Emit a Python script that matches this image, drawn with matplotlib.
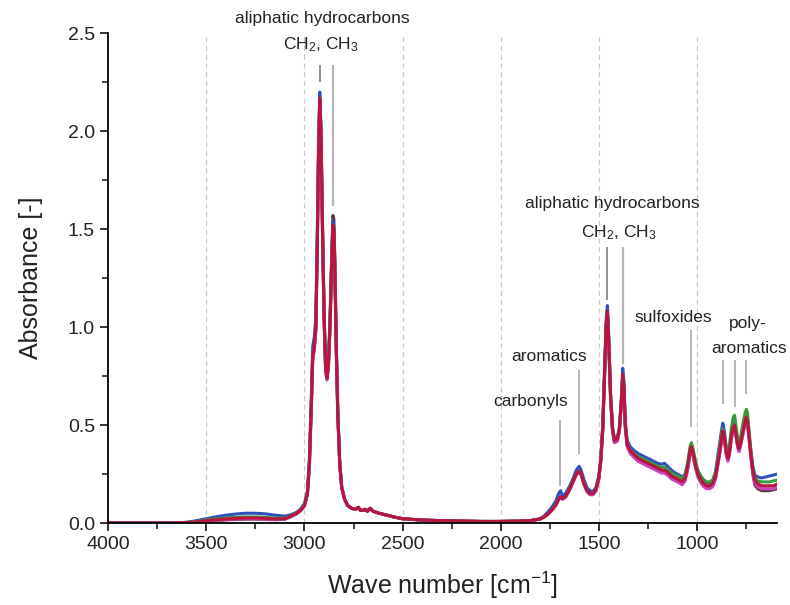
import numpy as np
import matplotlib
matplotlib.use("Agg")
import matplotlib.pyplot as plt
from matplotlib.ticker import MultipleLocator

plt.rcParams['font.family'] = ['Liberation Sans', 'DejaVu Sans']
plt.rcParams['mathtext.fontset'] = 'custom'
plt.rcParams['mathtext.rm'] = 'Liberation Sans'
plt.rcParams['mathtext.default'] = 'regular'

# wave numbers [cm-1] shared by all spectra
wavenumber = [
    4000, 3800, 3650, 3600, 3550, 3500, 3450, 3400, 3350, 3300,
    3250, 3200, 3150, 3100, 3070, 3040, 3020, 3000, 2985, 2975,
    2965, 2958, 2950, 2942, 2935, 2928, 2922, 2916, 2908, 2900,
    2892, 2885, 2878, 2870, 2862, 2855, 2850, 2845, 2838, 2830,
    2820, 2810, 2795, 2780, 2760, 2740, 2725, 2715, 2700, 2690,
    2680, 2665, 2650, 2620, 2580, 2540, 2500, 2400, 2300, 2200,
    2100, 2000, 1900, 1850, 1800, 1780, 1760, 1740, 1720, 1705,
    1695, 1685, 1670, 1650, 1630, 1615, 1600, 1590, 1575, 1560,
    1545, 1530, 1515, 1500, 1490, 1480, 1470, 1462, 1456, 1450,
    1440, 1430, 1420, 1405, 1395, 1385, 1378, 1372, 1365, 1355,
    1340, 1320, 1300, 1280, 1260, 1240, 1220, 1200, 1180, 1165,
    1150, 1130, 1110, 1090, 1075, 1060, 1045, 1035, 1028, 1020,
    1008, 995, 980, 965, 950, 935, 920, 905, 895, 885,
    875, 868, 860, 850, 842, 835, 825, 815, 808, 800,
    792, 785, 775, 765, 755, 748, 742, 735, 725, 715,
    705, 690, 670, 650, 630, 610, 590,
]

abs_red = [
    0, 0, 0, 0.002, 0.006, 0.012, 0.017, 0.021, 0.024, 0.026,
    0.026, 0.024, 0.021, 0.022, 0.035, 0.05, 0.065, 0.09, 0.15, 0.30,
    0.60, 0.85, 0.90, 1.00, 1.40, 1.90, 2.17, 2.00, 1.50, 1.05,
    0.78, 0.74, 0.80, 1.00, 1.30, 1.52, 1.50, 1.30, 0.90, 0.55,
    0.30, 0.18, 0.12, 0.09, 0.075, 0.07, 0.08, 0.065, 0.065, 0.07,
    0.06, 0.075, 0.06, 0.05, 0.04, 0.03, 0.022, 0.015, 0.012, 0.01,
    0.008, 0.008, 0.01, 0.012, 0.02, 0.03, 0.045, 0.065, 0.09, 0.12,
    0.135, 0.125, 0.135, 0.17, 0.215, 0.25, 0.265, 0.25, 0.20, 0.165,
    0.15, 0.15, 0.17, 0.23, 0.32, 0.48, 0.78, 1.02, 1.08, 0.95,
    0.65, 0.48, 0.42, 0.43, 0.48, 0.62, 0.76, 0.70, 0.50, 0.40,
    0.37, 0.35, 0.33, 0.32, 0.31, 0.30, 0.29, 0.28, 0.27, 0.27,
    0.26, 0.24, 0.23, 0.22, 0.21, 0.23, 0.30, 0.37, 0.39, 0.36,
    0.30, 0.25, 0.22, 0.20, 0.19, 0.19, 0.20, 0.24, 0.30, 0.36,
    0.43, 0.47, 0.44, 0.36, 0.33, 0.36, 0.44, 0.49, 0.50, 0.45,
    0.40, 0.38, 0.42, 0.47, 0.52, 0.54, 0.52, 0.45, 0.35, 0.27,
    0.22, 0.20, 0.19, 0.19, 0.19, 0.19, 0.20,
]

abs_blue = [
    0, 0, 0, 0.004, 0.012, 0.022, 0.032, 0.040, 0.046, 0.050,
    0.050, 0.047, 0.040, 0.035, 0.042, 0.055, 0.07, 0.10, 0.16, 0.32,
    0.65, 0.90, 0.95, 1.05, 1.45, 1.95, 2.20, 2.02, 1.52, 1.06,
    0.79, 0.75, 0.81, 1.01, 1.31, 1.54, 1.51, 1.31, 0.91, 0.56,
    0.30, 0.18, 0.12, 0.09, 0.075, 0.07, 0.08, 0.065, 0.065, 0.07,
    0.06, 0.075, 0.06, 0.05, 0.04, 0.03, 0.022, 0.015, 0.012, 0.01,
    0.008, 0.008, 0.01, 0.012, 0.022, 0.035, 0.055, 0.08, 0.11, 0.15,
    0.165, 0.14, 0.15, 0.185, 0.23, 0.27, 0.29, 0.27, 0.22, 0.18,
    0.165, 0.16, 0.18, 0.24, 0.33, 0.50, 0.80, 1.05, 1.11, 0.97,
    0.66, 0.49, 0.43, 0.44, 0.49, 0.64, 0.79, 0.72, 0.52, 0.42,
    0.39, 0.37, 0.355, 0.345, 0.335, 0.325, 0.315, 0.305, 0.30, 0.305,
    0.29, 0.27, 0.255, 0.245, 0.235, 0.25, 0.31, 0.38, 0.40, 0.37,
    0.31, 0.26, 0.235, 0.215, 0.205, 0.205, 0.215, 0.26, 0.33, 0.40,
    0.47, 0.51, 0.47, 0.38, 0.34, 0.37, 0.45, 0.50, 0.51, 0.46,
    0.41, 0.39, 0.43, 0.48, 0.53, 0.55, 0.53, 0.46, 0.37, 0.29,
    0.245, 0.235, 0.23, 0.235, 0.24, 0.245, 0.25,
]

abs_green = [
    0, 0, 0, 0.003, 0.008, 0.015, 0.021, 0.026, 0.029, 0.031,
    0.031, 0.029, 0.025, 0.025, 0.037, 0.052, 0.066, 0.092, 0.15, 0.30,
    0.60, 0.85, 0.90, 1.00, 1.40, 1.90, 2.17, 2.00, 1.50, 1.05,
    0.78, 0.74, 0.80, 1.00, 1.30, 1.52, 1.50, 1.30, 0.90, 0.55,
    0.30, 0.18, 0.12, 0.09, 0.075, 0.07, 0.08, 0.065, 0.065, 0.07,
    0.06, 0.075, 0.06, 0.05, 0.04, 0.03, 0.022, 0.015, 0.012, 0.01,
    0.008, 0.008, 0.01, 0.012, 0.02, 0.03, 0.045, 0.065, 0.09, 0.12,
    0.135, 0.125, 0.135, 0.17, 0.215, 0.25, 0.265, 0.25, 0.20, 0.165,
    0.15, 0.15, 0.17, 0.23, 0.32, 0.48, 0.78, 1.02, 1.08, 0.95,
    0.65, 0.48, 0.42, 0.43, 0.48, 0.62, 0.76, 0.70, 0.50, 0.40,
    0.375, 0.355, 0.34, 0.33, 0.32, 0.31, 0.30, 0.29, 0.285, 0.285,
    0.275, 0.255, 0.245, 0.235, 0.225, 0.245, 0.32, 0.39, 0.41, 0.38,
    0.32, 0.27, 0.24, 0.22, 0.21, 0.21, 0.22, 0.26, 0.32, 0.38,
    0.45, 0.48, 0.45, 0.38, 0.35, 0.39, 0.48, 0.54, 0.55, 0.49,
    0.43, 0.41, 0.45, 0.51, 0.56, 0.58, 0.56, 0.48, 0.37, 0.28,
    0.23, 0.215, 0.21, 0.21, 0.21, 0.215, 0.22,
]

abs_magenta = [
    0, 0, 0, 0.002, 0.005, 0.01, 0.014, 0.018, 0.02, 0.022,
    0.022, 0.02, 0.018, 0.02, 0.033, 0.048, 0.063, 0.088, 0.145, 0.29,
    0.58, 0.83, 0.88, 0.98, 1.38, 1.88, 2.15, 1.98, 1.48, 1.04,
    0.77, 0.73, 0.79, 0.99, 1.29, 1.50, 1.48, 1.28, 0.89, 0.54,
    0.30, 0.18, 0.12, 0.09, 0.075, 0.07, 0.08, 0.065, 0.065, 0.07,
    0.06, 0.075, 0.06, 0.05, 0.04, 0.03, 0.022, 0.015, 0.012, 0.01,
    0.008, 0.008, 0.01, 0.012, 0.02, 0.03, 0.045, 0.065, 0.09, 0.12,
    0.13, 0.12, 0.13, 0.165, 0.21, 0.245, 0.26, 0.245, 0.195, 0.16,
    0.145, 0.145, 0.165, 0.225, 0.315, 0.47, 0.77, 1.00, 1.06, 0.94,
    0.64, 0.47, 0.41, 0.42, 0.47, 0.61, 0.74, 0.69, 0.49, 0.39,
    0.355, 0.335, 0.315, 0.305, 0.295, 0.285, 0.275, 0.265, 0.255, 0.255,
    0.245, 0.225, 0.215, 0.205, 0.195, 0.215, 0.285, 0.355, 0.375, 0.345,
    0.285, 0.235, 0.205, 0.185, 0.175, 0.175, 0.185, 0.225, 0.285, 0.345,
    0.41, 0.45, 0.42, 0.345, 0.315, 0.345, 0.425, 0.475, 0.485, 0.435,
    0.385, 0.365, 0.405, 0.455, 0.505, 0.525, 0.505, 0.435, 0.335, 0.255,
    0.205, 0.185, 0.175, 0.175, 0.175, 0.175, 0.185,
]

abs_dark = [
    0, 0, 0, 0.001, 0.004, 0.009, 0.013, 0.016, 0.018, 0.02,
    0.02, 0.019, 0.017, 0.019, 0.032, 0.047, 0.062, 0.088, 0.148, 0.30,
    0.60, 0.84, 0.89, 0.99, 1.40, 1.90, 2.16, 2.00, 1.52, 1.08,
    0.80, 0.76, 0.82, 1.03, 1.34, 1.57, 1.55, 1.34, 0.93, 0.57,
    0.30, 0.18, 0.12, 0.09, 0.075, 0.07, 0.08, 0.065, 0.065, 0.07,
    0.06, 0.075, 0.06, 0.05, 0.04, 0.03, 0.022, 0.015, 0.012, 0.01,
    0.008, 0.008, 0.01, 0.012, 0.02, 0.03, 0.045, 0.065, 0.09, 0.12,
    0.135, 0.125, 0.135, 0.17, 0.215, 0.25, 0.265, 0.25, 0.20, 0.165,
    0.145, 0.145, 0.165, 0.225, 0.315, 0.47, 0.77, 1.01, 1.07, 0.94,
    0.64, 0.47, 0.41, 0.42, 0.47, 0.61, 0.75, 0.69, 0.49, 0.39,
    0.36, 0.34, 0.32, 0.31, 0.30, 0.29, 0.28, 0.27, 0.26, 0.26,
    0.25, 0.23, 0.22, 0.21, 0.20, 0.22, 0.29, 0.36, 0.38, 0.35,
    0.29, 0.24, 0.21, 0.19, 0.18, 0.18, 0.19, 0.23, 0.29, 0.35,
    0.42, 0.46, 0.43, 0.35, 0.32, 0.35, 0.43, 0.48, 0.49, 0.44,
    0.39, 0.37, 0.41, 0.46, 0.51, 0.53, 0.51, 0.44, 0.34, 0.25,
    0.195, 0.175, 0.165, 0.165, 0.165, 0.17, 0.175,
]

# drawn back to front, red ends up on top
spectra = [
    (abs_dark, "#5a3c3c"),
    (abs_blue, "#2f4fbf"),
    (abs_green, "#3a9a3a"),
    (abs_magenta, "#d040c0"),
    (abs_red, "#b8143c"),
]

grid_positions = [3500, 3000, 2500, 2000, 1500, 1000]

fig = plt.figure(figsize=(7.9, 6.05), dpi=100)
ax = fig.add_axes([0.137, 0.1355, 0.847, 0.8095])

for pos in grid_positions:
    ax.axvline(pos, color="#c8c8c8", lw=0.9, ls=(0, (4, 3)), zorder=0)

for values, color in spectra:
    ax.plot(wavenumber, values, color=color, lw=2.2, solid_joinstyle="round", zorder=2)

ax.set_xlim(4000, 590)
ax.set_ylim(0, 2.5)
ax.xaxis.set_major_locator(MultipleLocator(500))
ax.xaxis.set_minor_locator(MultipleLocator(250))
ax.yaxis.set_major_locator(MultipleLocator(0.5))
ax.yaxis.set_minor_locator(MultipleLocator(0.25))
ax.yaxis.set_major_formatter(plt.FormatStrFormatter("%.1f"))

for side in ["top", "right"]:
    ax.spines[side].set_visible(False)
for side in ["left", "bottom"]:
    ax.spines[side].set_linewidth(1.3)
ax.tick_params(which="major", direction="out", length=6, width=1.3, labelsize=14,
               color="#222222", labelcolor="#222222")
ax.tick_params(which="minor", direction="out", length=4, width=1.2, color="#222222")

ax.set_xlabel("Wave number [cm$^{-1}$]", fontsize=18, labelpad=12, color="#222222")
ax.set_ylabel("Absorbance [-]", fontsize=18, labelpad=18, color="#222222")

# band assignment markers
line_light = "#b4b4b4"
line_dark = "#707070"
ax.vlines(2922, 2.25, 2.34, color=line_dark, lw=1.1, zorder=3, clip_on=False)
ax.vlines(2852, 1.62, 2.34, color=line_light, lw=1.6, zorder=3, clip_on=False)
ax.vlines(1456, 1.14, 1.41, color=line_dark, lw=1.1, zorder=3)
ax.vlines(1376, 0.81, 1.41, color=line_light, lw=1.6, zorder=3)
ax.vlines(1030, 0.49, 0.985, color=line_light, lw=1.4, zorder=3)
ax.vlines([868, 808, 748], [0.61, 0.59, 0.66], 0.83, color=line_light, lw=1.4, zorder=3)
ax.vlines(1600, 0.35, 0.78, color=line_light, lw=1.4, zorder=3)
ax.vlines(1700, 0.19, 0.525, color=line_light, lw=1.4, zorder=3)

txt = dict(fontsize=12.5, ha="center", va="center", color="#222222")
ax.text(2908, 2.575, "aliphatic hydrocarbons", clip_on=False, **txt)
ax.text(2918, 2.44, "CH$_{2}$, CH$_{3}$", clip_on=False, **txt)
ax.text(1429, 1.63, "aliphatic hydrocarbons", **txt)
ax.text(1398, 1.48, "CH$_{2}$, CH$_{3}$", **txt)
ax.text(1122, 1.05, "sulfoxides", **txt)
ax.text(742, 1.02, "poly-", **txt)
ax.text(735, 0.89, "aromatics", **txt)
ax.text(1755, 0.85, "aromatics", **txt)
ax.text(1847, 0.62, "carbonyls", **txt)

fig.savefig("out.png", dpi=100)
